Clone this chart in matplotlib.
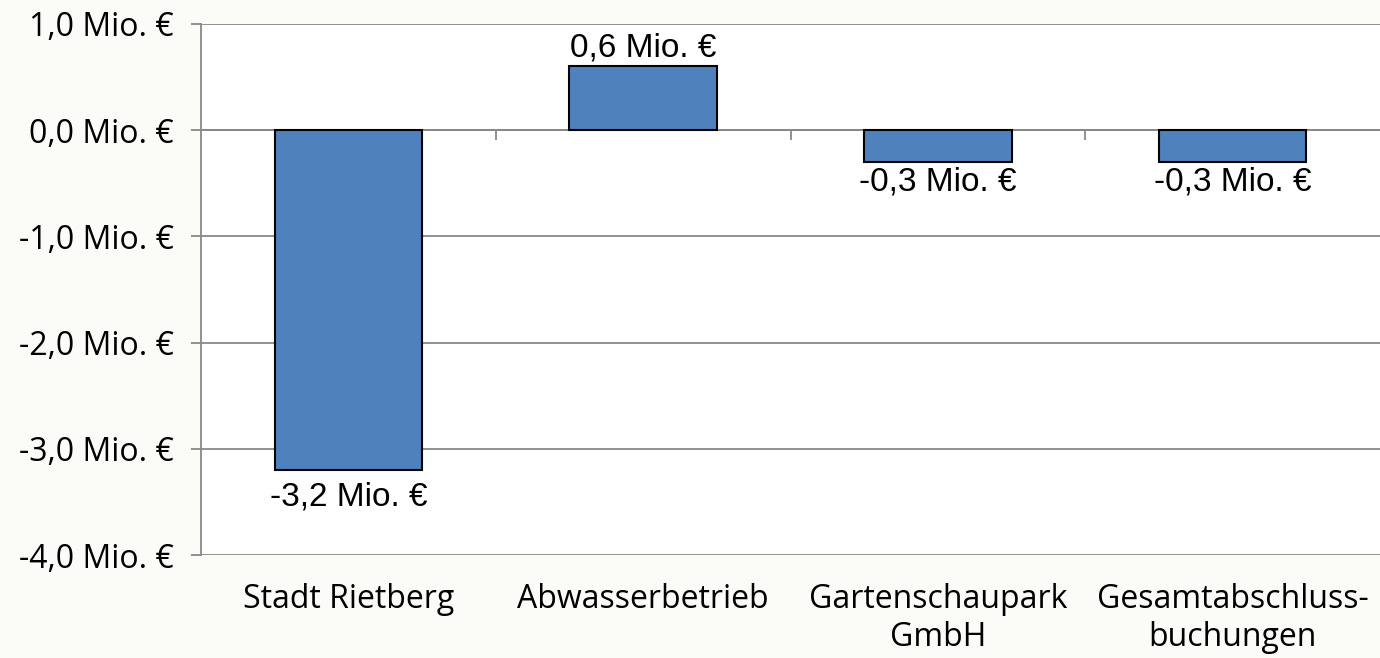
import matplotlib
matplotlib.use("Agg")
import matplotlib.pyplot as plt
import numpy as np

categories = ["Stadt Rietberg", "Abwasserbetrieb", "Gartenschaupark\nGmbH", "Gesamtabschluss-\nbuchungen"]
values = [-3.2, 0.6, -0.3, -0.3]
labels = ["-3,2 Mio. €", "0,6 Mio. €", "-0,3 Mio. €", "-0,3 Mio. €"]
yticks = [1, 0, -1, -2, -3, -4]
ytick_labels = ["1,0 Mio. €", "0,0 Mio. €", "-1,0 Mio. €", "-2,0 Mio. €", "-3,0 Mio. €", "-4,0 Mio. €"]

fig = plt.figure(figsize=(13.8, 6.58), dpi=100, facecolor="#fbfbf7")
ax = fig.add_axes([201/1380, 1-555/658, 1-201/1380, (555-24)/658])
ax.set_facecolor("white")

x = np.arange(len(categories))
ax.bar(x, values, width=0.5, color="#4f81bd", edgecolor="black", linewidth=1.5, zorder=3)

ax.set_xlim(-0.5, len(categories) - 0.5)
ax.set_ylim(-4, 1)
ax.set_yticks(yticks)
ax.set_yticklabels(ytick_labels, fontsize=23, family="Open Sans")
ax.yaxis.grid(True, color="#888888", linewidth=1.3, zorder=0)
ax.tick_params(axis="y", length=7.5, width=1.3, color="#888888", pad=12)

for s in ["top", "right", "bottom"]:
    ax.spines[s].set_visible(False)
ax.spines["left"].set_color("#888888")
ax.spines["left"].set_linewidth(1.3)

ax.set_xticks(x)
ax.set_xticklabels(categories, fontsize=23, family="Open Sans", linespacing=1.2)
ax.tick_params(axis="x", length=0, pad=20)

# category boundary tick marks on zero line
ax.vlines(np.arange(0.5, len(categories) - 0.5, 1.0), -0.09, 0, color="#888888", linewidth=1.3, zorder=2)
ax.axhline(0, color="#888888", linewidth=1.3, zorder=2)

neg_offsets = [-8, 0, -3.5, -3.5]
for xi, v, lab, off in zip(x, values, labels, neg_offsets):
    if v >= 0:
        ax.annotate(lab, (xi, v), xytext=(0, 2), textcoords="offset points",
                    ha="center", va="bottom", fontsize=24, family="Liberation Sans")
    else:
        ax.annotate(lab, (xi, v), xytext=(0, off), textcoords="offset points",
                    ha="center", va="top", fontsize=24, family="Liberation Sans")

fig.savefig("out.png", dpi=100, facecolor=fig.get_facecolor())
